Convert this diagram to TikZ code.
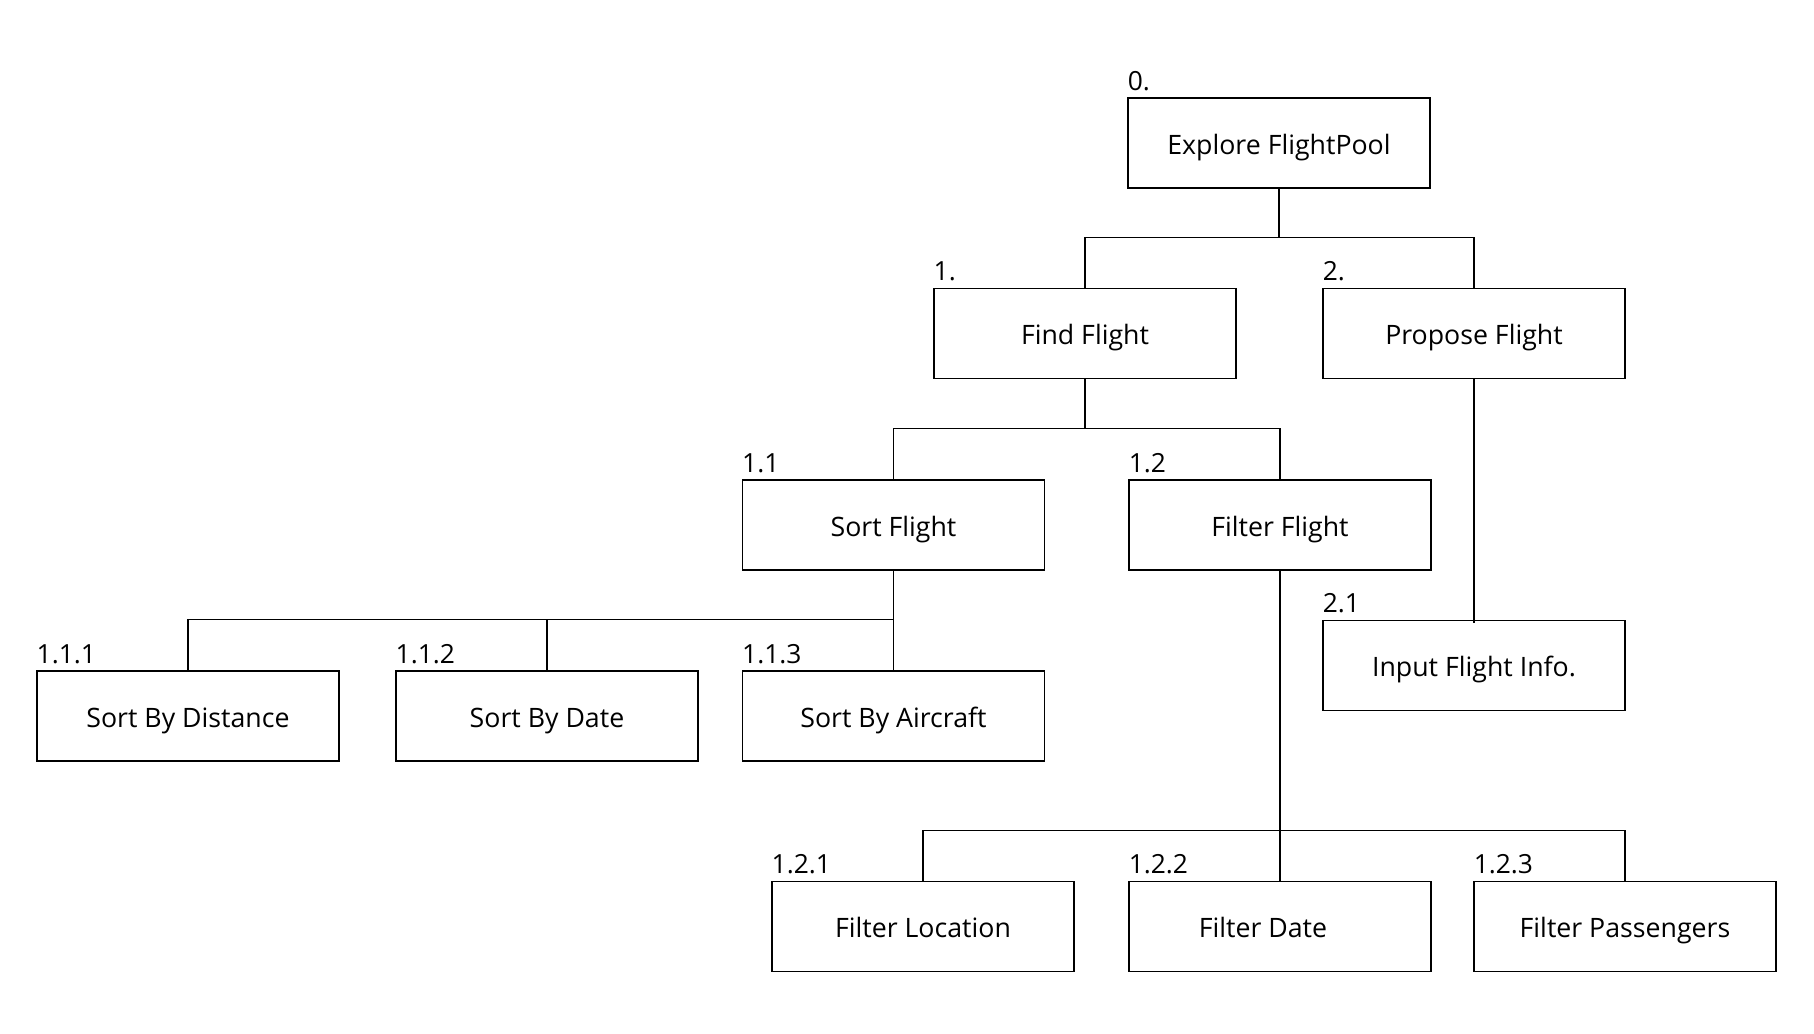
\documentclass[tikz,border=0pt]{standalone}
\usepackage{fontspec}
\setmainfont{Open Sans}
\tikzset{
  task/.style={draw, line width=0.7pt, minimum width=6.04cm, minimum height=1.8cm, inner sep=0pt, text height=1.3em, text depth=0pt, font=\fontsize{15.2}{18}\selectfont},
  num/.style={anchor=base west, inner sep=0pt, font=\fontsize{15}{17}\selectfont},
  link/.style={line width=0.7pt}
}
\begin{document}
\begin{tikzpicture}
\useasboundingbox (0,0) rectangle (36.28,20.66);
\node[task] (root) at (25.58,17.80) {Explore FlightPool};
\node[task] (find) at (21.70,13.99) {Find Flight};
\node[task] (propose) at (29.48,13.99) {Propose Flight};
\node[task] (sort) at (17.87,10.16) {Sort Flight};
\node[task] (filter) at (25.60,10.16) {Filter Flight};
\node[task] (input) at (29.48,7.35) {Input Flight Info.};
\node[task] (dist) at (3.76,6.34) {Sort By Distance};
\node[task] (date) at (10.94,6.34) {Sort By Date};
\node[task] (craft) at (17.87,6.34) {Sort By Aircraft};
\node[task] (loc) at (18.46,2.13) {Filter Location};
\node[task] (fdate) at (25.60,2.13) {Filter Date\kern0.68cm};
\node[task] (pass) at (32.50,2.13) {Filter Passengers};
\node[num] (n0) at ([yshift=0.14cm]root.north west) {0.};
\node[num] (n1) at ([yshift=0.14cm]find.north west) {1.};
\node[num] (n2) at ([yshift=0.14cm]propose.north west) {2.};
\node[num] (n11) at ([yshift=0.14cm]sort.north west) {1.1};
\node[num] (n12) at ([yshift=0.14cm]filter.north west) {1.2};
\node[num] (n21) at ([yshift=0.14cm]input.north west) {2.1};
\node[num] (n111) at ([yshift=0.14cm]dist.north west) {1.1.1};
\node[num] (n112) at ([yshift=0.14cm]date.north west) {1.1.2};
\node[num] (n113) at ([yshift=0.14cm]craft.north west) {1.1.3};
\node[num] (n121) at ([yshift=0.14cm]loc.north west) {1.2.1};
\node[num] (n122) at ([yshift=0.14cm]fdate.north west) {1.2.2};
\node[num] (n123) at ([yshift=0.14cm]pass.north west) {1.2.3};
\foreach \c in {find,propose}
  \draw[link] (root.south) |- ([yshift=1.01cm]\c.north) -- (\c.north);
\foreach \c in {sort,filter}
  \draw[link] (find.south) |- ([yshift=1.01cm]\c.north) -- (\c.north);
\foreach \c in {dist,date,craft}
  \draw[link] (sort.south) |- ([yshift=1.01cm]\c.north) -- (\c.north);
\foreach \c in {loc,fdate,pass}
  \draw[link] (filter.south) |- ([yshift=1.01cm]\c.north) -- (\c.north);
\draw[link] (propose.south) -- ([yshift=-0.06cm]input.north);
\end{tikzpicture}
\end{document}
